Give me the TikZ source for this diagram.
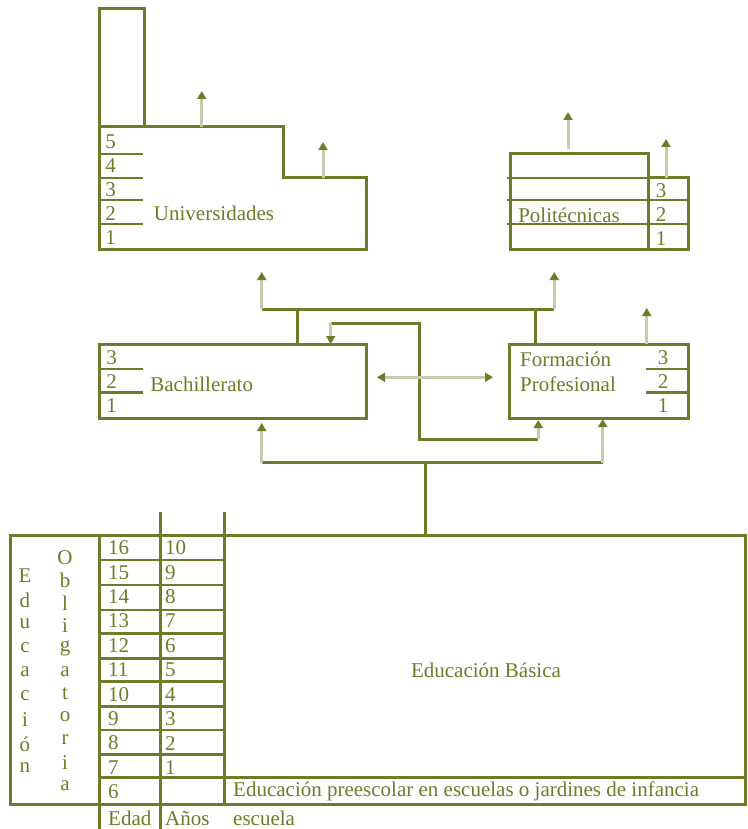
\documentclass[tikz,border=0pt]{standalone}
\usepackage{fontspec}
\setmainfont{Liberation Serif}
\usetikzlibrary{arrows.meta}
\definecolor{olv}{RGB}{107,125,40}
\definecolor{pale}{RGB}{196,204,178}
\tikzset{
  boxline/.style={draw=olv,line width=3pt},
  rowline/.style={draw=olv,line width=2.6pt},
  conn/.style={draw=olv,line width=3pt},
  shaft/.style={draw=pale,line width=3pt,-{Triangle[width=9pt,length=8pt,color=olv,fill=olv]}},
  dshaft/.style={draw=pale,line width=3pt,{Triangle[width=9pt,length=8pt,color=olv,fill=olv]}-{Triangle[width=9pt,length=8pt,color=olv,fill=olv]}},
  txt/.style={text=olv,inner sep=0pt,font=\fontsize{21}{24}\selectfont},
}
\begin{document}
\begin{tikzpicture}[x=1pt,y=-1pt]
\useasboundingbox (0,0) rectangle (747,829);
\fill[white] (0,0) rectangle (747,829);

% ---------- Universidades ----------
\draw[boxline] (99,9) rectangle (144,127);
\draw[boxline] (99,127) -- (283,127) -- (283,178) -- (366,178) -- (366,249) -- (99,249) -- cycle;
\foreach \yy in {154,178,200,224} \draw[rowline] (99,\yy) -- (143,\yy);
\foreach \n/\yy in {5/141.5,4/166,3/190,2/214,1/238}
  \node[txt] (u\n) at (110.7,\yy) {\n};
\node[txt] (univ) at (214,213) {Universidades};
\coordinate (ua1) at (201.7,127); \coordinate (ua1t) at (201.7,91);
\coordinate (ua2) at (323,178); \coordinate (ua2t) at (323,142);
\draw[shaft] (ua1) -- (ua1t);
\draw[shaft] (ua2) -- (ua2t);

% ---------- Politecnicas ----------
\draw[boxline] (510,154) rectangle (648,249);
\draw[boxline] (648,178) rectangle (688,249);
\foreach \yy in {178,200,224} \draw[rowline] (507,\yy) -- (688,\yy);
\node[txt] (poli) at (569,215) {Politécnicas};
\foreach \n/\yy in {3/191,2/214.5,1/238.5}
  \node[txt] (p\n) at (661,\yy) {\n};
\coordinate (pa1) at (568,149); \coordinate (pa1t) at (568,112);
\coordinate (pa2) at (666,178); \coordinate (pa2t) at (666,139);
\draw[shaft] (pa1) -- (pa1t);
\draw[shaft] (pa2) -- (pa2t);

% ---------- Bachillerato ----------
\draw[boxline] (99,344) rectangle (366,418);
\foreach \yy in {369,392.5} \draw[rowline] (99,\yy) -- (143,\yy);
\foreach \n/\yy in {3/357.5,2/382,1/405.5}
  \node[txt] (b\n) at (111.7,\yy) {\n};
\node[txt] (bach) at (201.7,384) {Bachillerato};

% ---------- Formacion Profesional ----------
\draw[boxline] (509,344) rectangle (688,418);
\foreach \yy in {369,392.5} \draw[rowline] (646,\yy) -- (688,\yy);
\foreach \n/\yy in {3/357.5,2/382,1/405.5}
  \node[txt] (f\n) at (663,\yy) {\n};
\node[txt,anchor=west] (fp1) at (520,359) {Formación};
\node[txt,anchor=west] (fp2) at (520,384) {Profesional};

% ---------- connectors middle ----------
\coordinate (bt) at (297,344); \coordinate (bj) at (297,309);
\coordinate (ft) at (535,344); \coordinate (fj) at (535,309);
\coordinate (hl) at (261.7,309); \coordinate (hr) at (554.3,309);
\draw[conn] (hl) -- (hr);
\draw[conn] (bt) -- (bj);
\draw[conn] (ft) -- (fj);
\draw[shaft] (hl) -- (261.7,272);
\draw[shaft] (hr) -- (554.3,272);

\coordinate (la) at (538.3,439.3); \coordinate (lb) at (419.3,439.3);
\coordinate (lc) at (419.3,323.3); \coordinate (ld) at (330.7,323.3);
\draw[conn,line width=2.6pt] (la) -- (lb) -- (lc) -- (ld);
\draw[shaft] (ld) -- (330.7,344);
\draw[shaft] (la) -- (538.3,420);

\coordinate (dl) at (377,377.3); \coordinate (dr) at (493,377.3);
\draw[dshaft] (dl) -- (dr);

\coordinate (fa) at (646.7,344); \coordinate (fat) at (646.7,308);
\draw[shaft] (fa) -- (fat);

% ---------- bottom connector ----------
\coordinate (gl) at (261.7,462.7); \coordinate (gr) at (602.7,462.7);
\coordinate (gm) at (425.7,462.7); \coordinate (gb) at (425.7,535.7);
\draw[conn,line width=2.6pt] (gl) -- (gr);
\draw[conn] (gm) -- (gb);
\draw[shaft] (gl) -- (261.7,423);
\draw[shaft] (gr) -- (602.7,419);

% ---------- big table ----------
\draw[boxline] (10,535.7) rectangle (745,804);
\draw[boxline] (99,535.7) -- (99,829);
\draw[boxline] (160.7,512) -- (160.7,829);
\draw[boxline] (224,512) -- (224,804);
\foreach \yy in {560,585,610,633.3,658.3,681.7,706.7,730,754.3}
  \draw[rowline] (99,\yy) -- (224,\yy);
\draw[rowline] (99,777.7) -- (745,777.7);

\foreach \e [count=\i] in {16,15,14,13,12,11,10,9,8,7,6}{
  \pgfmathsetmacro{\yc}{523.5+24.4*\i}
  \node[txt,anchor=west] (ed\i) at (108,\yc) {\e};
}
\foreach \a [count=\i] in {10,9,8,7,6,5,4,3,2,1}{
  \pgfmathsetmacro{\yc}{523.5+24.4*\i}
  \node[txt,anchor=west] (an\i) at (165,\yc) {\a};
}
\foreach \l [count=\i] in {E,d,u,c,a,c,i,ó,n}{
  \pgfmathsetmacro{\yc}{552+24*\i}
  \node[txt] (ev\i) at (25,\yc) {\l};
}
\foreach \l [count=\i] in {O,b,l,i,g,a,t,o,r,i,a}{
  \pgfmathsetmacro{\yc}{534.5+22.8*\i}
  \node[txt] (ov\i) at (65,\yc) {\l};
}
\node[txt] (basica) at (486,670) {Educación Básica};
\node[txt,anchor=west] (pre) at (233,791) {Educación preescolar en escuelas o jardines de infancia};
\node[txt,anchor=base west] (esc) at (233,825) {escuela};
\node[txt,anchor=base west] (edad) at (108,825) {Edad};
\node[txt,anchor=base west] (anos) at (165,825) {Años};
\end{tikzpicture}
\end{document}
